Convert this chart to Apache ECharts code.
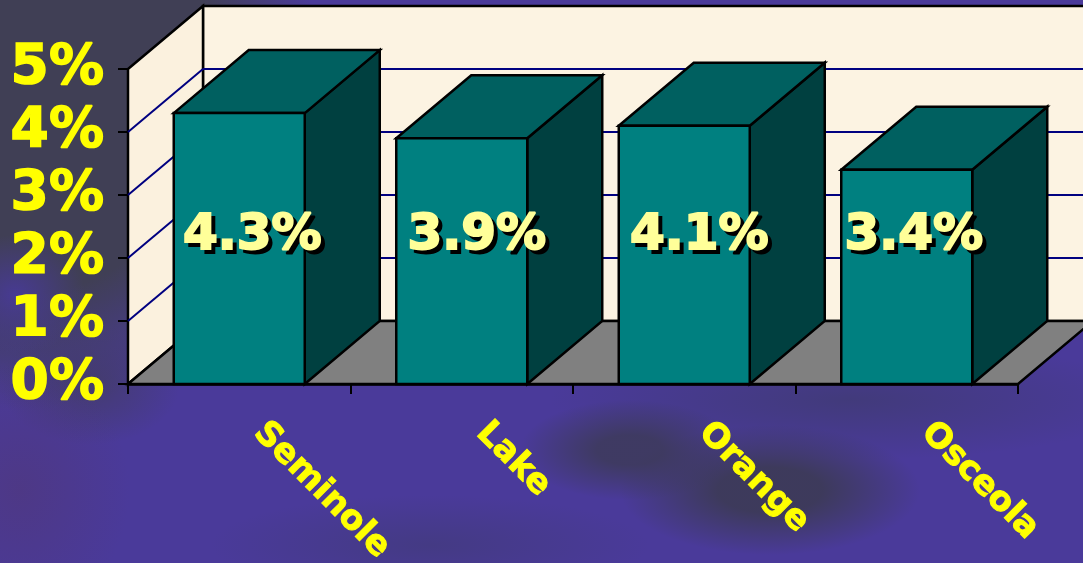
<!DOCTYPE html>
<html><head><meta charset="utf-8">
<script src="https://cdn.jsdelivr.net/npm/echarts@6/dist/echarts.min.js"></script>
<style>
html,body{margin:0;padding:0;width:1083px;height:563px;overflow:hidden;
background:
 radial-gradient(ellipse 110px 50px at 630px 450px,rgba(60,58,85,.8) 30%,rgba(60,58,85,0) 100%),
 radial-gradient(ellipse 150px 65px at 770px 490px,rgba(60,58,85,.9) 35%,rgba(60,58,85,0) 100%),
 radial-gradient(ellipse 300px 60px at 850px 400px,rgba(62,58,110,.7),rgba(62,58,110,0) 100%),
 radial-gradient(ellipse 220px 50px at 430px 545px,rgba(62,58,110,.5),rgba(62,58,110,0) 100%),
 radial-gradient(ellipse 110px 130px at 20px 490px,rgba(80,55,120,.6),rgba(80,55,120,0) 100%),
 radial-gradient(ellipse 70px 60px at 15px 295px,rgba(72,58,150,.95),rgba(72,58,150,0) 100%),
 radial-gradient(ellipse 90px 60px at 90px 385px,rgba(66,60,100,.8),rgba(66,60,100,0) 100%),
 radial-gradient(ellipse 300px 330px at 20px 80px,rgba(64,63,85,1) 65%,rgba(64,63,85,0) 100%),
 #4a3a9a;}
#c{width:1083px;height:563px}
</style></head><body><div id="c"></div>
<script>
const categories = ['Seminole','Lake','Orange','Osceola'];
const values = [4.3,3.9,4.1,3.4];
const valueLabels = ['4.3%','3.9%','4.1%','3.4%'];
const yTicks = [0,1,2,3,4,5];

const DX = 75, DY = -63, BAR = 131/222.5;
const EDGE = {stroke:'#000',lineWidth:2.5,lineJoin:'miter'};
const LABEL_VALUE = 2.35;
const LABEL_NUDGE = [13,15,15,7];

function poly(pts, fill){
  return {type:'polygon',shape:{points:pts},style:Object.assign({fill:fill},EDGE)};
}
function line(a,b,color,w){
  return {type:'line',shape:{x1:a[0],y1:a[1],x2:b[0],y2:b[1]},style:{stroke:color,lineWidth:w}};
}
function renderWalls(params, api){
  const cs = params.coordSys, x0 = cs.x, x1 = cs.x+cs.width;
  const yAt = v => api.coord([0,v])[1];
  const y0 = yAt(0), yTop = yAt(5);
  const kids = [];
  kids.push(poly([[x0+DX,yTop+DY],[x1+DX,yTop+DY],[x1+DX,y0+DY],[x0+DX,y0+DY]],'#fcf3e2'));
  kids.push(poly([[x0,yTop],[x0+DX,yTop+DY],[x0+DX,y0+DY],[x0,y0]],'#fbf1de'));
  kids.push(poly([[x0,y0],[x0+DX,y0+DY],[x1+DX,y0+DY],[x1,y0]],'#808080'));
  yTicks.slice(1,-1).forEach(v=>{
    const y = yAt(v);
    kids.push(line([x0,y],[x0+DX,y+DY],'#000080',2));
    kids.push(line([x0+DX,y+DY],[x1+DX,y+DY],'#000080',2));
  });
  return {type:'group',children:kids};
}
function renderBar(params, api){
  const i = api.value(0), v = api.value(1);
  const top = api.coord([i,v]), base = api.coord([i,0]);
  const w = api.size([1,0])[0]*BAR, l = top[0]-w/2, r = top[0]+w/2;
  return {type:'group',children:[
    poly([[r,top[1]],[r+DX,top[1]+DY],[r+DX,base[1]+DY],[r,base[1]]],'#004040'),
    poly([[l,top[1]],[l+DX,top[1]+DY],[r+DX,top[1]+DY],[r,top[1]]],'#006060'),
    poly([[l,top[1]],[r,top[1]],[r,base[1]],[l,base[1]]],'#008080')
  ]};
}
function labelText(x, y, text, color, z2){
  return {type:'text',x:x,y:y,z2:z2,style:{
    text:text,fill:color,font:'bold 50px "DejaVu Sans"',
    stroke:color,lineWidth:2,align:'center',verticalAlign:'middle'}};
}
function renderLabel(params, api){
  const i = api.value(0);
  const p = api.coord([i,LABEL_VALUE]);
  const x = p[0]+LABEL_NUDGE[i];
  return {type:'group',children:[
    labelText(x+4,p[1]+4,valueLabels[i],'#000',99),
    labelText(x,p[1],valueLabels[i],'#ffff99',100)
  ]};
}
const chart = echarts.init(document.getElementById('c'),null,{renderer:'canvas'});
chart.setOption({
  animation:false,
  backgroundColor:'transparent',
  grid:{left:128,right:65,top:69,bottom:179,containLabel:false,outerBoundsMode:'none'},
  xAxis:{type:'category',data:categories,
    axisLine:{show:true,lineStyle:{color:'#000',width:2.5}},
    axisTick:{show:true,length:10,lineStyle:{color:'#000',width:2}},
    splitLine:{show:false},
    axisLabel:{rotate:-45,margin:24,padding:[0,0,0,28],color:'#ffff00',fontFamily:'DejaVu Sans',fontWeight:'bold',fontSize:34,interval:0,
      textBorderColor:'#ffff00',textBorderWidth:1}},
  yAxis:{type:'value',min:0,max:5,interval:1,
    axisLine:{show:true,lineStyle:{color:'#222',width:2}},
    axisTick:{show:true,length:10,lineStyle:{color:'#000',width:2}},
    splitLine:{show:false},
    axisLabel:{margin:24,color:'#ffff00',fontFamily:'DejaVu Sans',fontWeight:'bold',fontSize:55,formatter:'{value}%',
      textBorderColor:'#ffff00',textBorderWidth:1.5}},
  series:[
    {type:'custom',z:1,silent:true,clip:false,data:[[0,0]],renderItem:renderWalls},
    {type:'custom',z:2,silent:true,clip:false,data:values.map((v,i)=>[i,v]),renderItem:renderBar},
    {type:'custom',z:3,silent:true,clip:false,data:values.map((v,i)=>[i,v]),renderItem:renderLabel}
  ]
});
</script></body></html>
